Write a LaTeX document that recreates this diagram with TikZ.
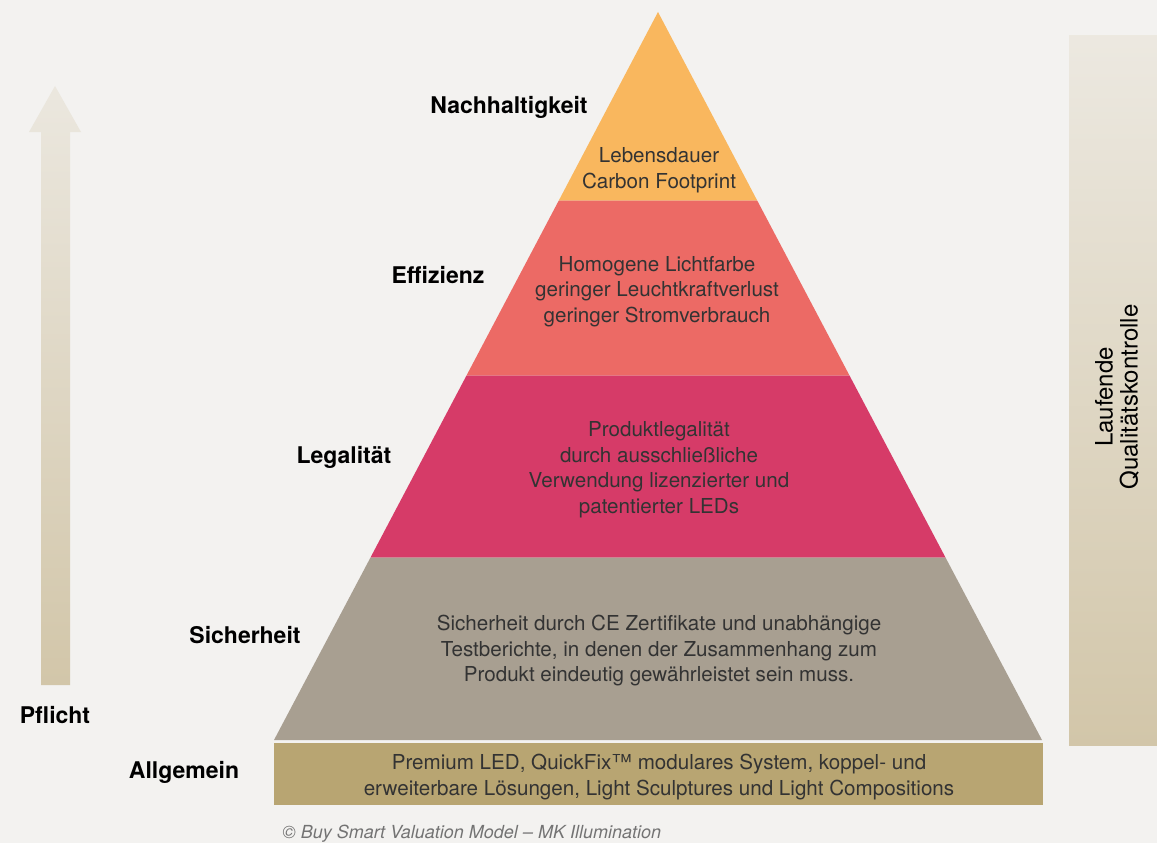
\documentclass[tikz,border=0pt]{standalone}
\usepackage{fontspec}
\setmainfont{TeX Gyre Heros}
\begin{document}
\begin{tikzpicture}[x=1pt,y=-1pt,
  body/.style={align=center,font=\fontsize{20.6}{25.5}\selectfont,text=black!80},
  lvl/.style={font=\bfseries\fontsize{23}{25}\selectfont,text=black}]
\definecolor{bg}{HTML}{F3F2F0}
\definecolor{cOrange}{HTML}{F9B75E}
\definecolor{cSalmon}{HTML}{EC6A65}
\definecolor{cMagenta}{HTML}{D63B68}
\definecolor{cGrey}{HTML}{A89F91}
\definecolor{cBase}{HTML}{B8A572}
\definecolor{gTop}{HTML}{EAE6DD}
\definecolor{gBot}{HTML}{D2C6A9}
\fill[bg] (0,0) rectangle (1157,843);
\useasboundingbox (0,0) rectangle (1157,843);
% pyramid layers
\fill[cOrange] (658,12) -- (757.2,200.5) -- (558.8,200.5) -- cycle;
\fill[cSalmon] (558.8,200.5) -- (757.2,200.5) -- (849.5,375.5) -- (466.5,375.5) -- cycle;
\fill[cMagenta] (466.5,375.5) -- (849.5,375.5) -- (945.5,557.5) -- (370.5,557.5) -- cycle;
\fill[cGrey] (370.5,557.5) -- (945.5,557.5) -- (1042,740) -- (274,740) -- cycle;
\fill[cBase] (274,743) rectangle (1043,805);
% left arrow
\shade[top color=gTop!95!white,bottom color=gBot]
  (41,685) -- (41,132) -- (29,132) -- (55,86) -- (81,132) -- (70,132) -- (70,685) -- cycle;
% right bar
\shade[top color=gTop!90!white,bottom color=gBot] (1069,36) rectangle (1157,745);
% texts
\node[body] (t1) at (659,170) {Lebensdauer\\Carbon Footprint};
\node[body] (t2) at (657,291.5) {Homogene Lichtfarbe\\geringer Leuchtkraftverlust\\geringer Stromverbrauch};
\node[body] (t3) at (659,469.5) {Produktlegalität\\durch ausschließliche\\Verwendung lizenzierter und\\patentierter LEDs};
\node[body] (t4) at (659,651) {Sicherheit durch CE Zertifikate und unabhängige\\Testberichte, in denen der Zusammenhang zum\\Produkt eindeutig gewährleistet sein muss.};
\node[body] (t5) at (659,777) {Premium LED, QuickFix™ modulares System, koppel- und\\erweiterbare Lösungen, Light Sculptures und Light Compositions};
\node[lvl] (l1) at (509,107.5) {Nachhaltigkeit};
\node[lvl] (l2) at (438,275.5) {Effizienz};
\node[lvl] (l3) at (344,457.5) {Legalität};
\node[lvl] (l4) at (245,635.5) {Sicherheit};
\node[lvl] (l5) at (184,772.5) {Allgemein};
\node[lvl] (l6) at (55,715.5) {Pflicht};
\node[rotate=90,align=center,font=\fontsize{24}{25}\selectfont,text=black] (qk) at (1117,397) {Laufende\\Qualitätskontrolle};
\node[anchor=west,font=\itshape\fontsize{18}{20}\selectfont,text=black!55] (cp) at (279,834) {© Buy Smart Valuation Model – MK Illumination};
\end{tikzpicture}
\end{document}
